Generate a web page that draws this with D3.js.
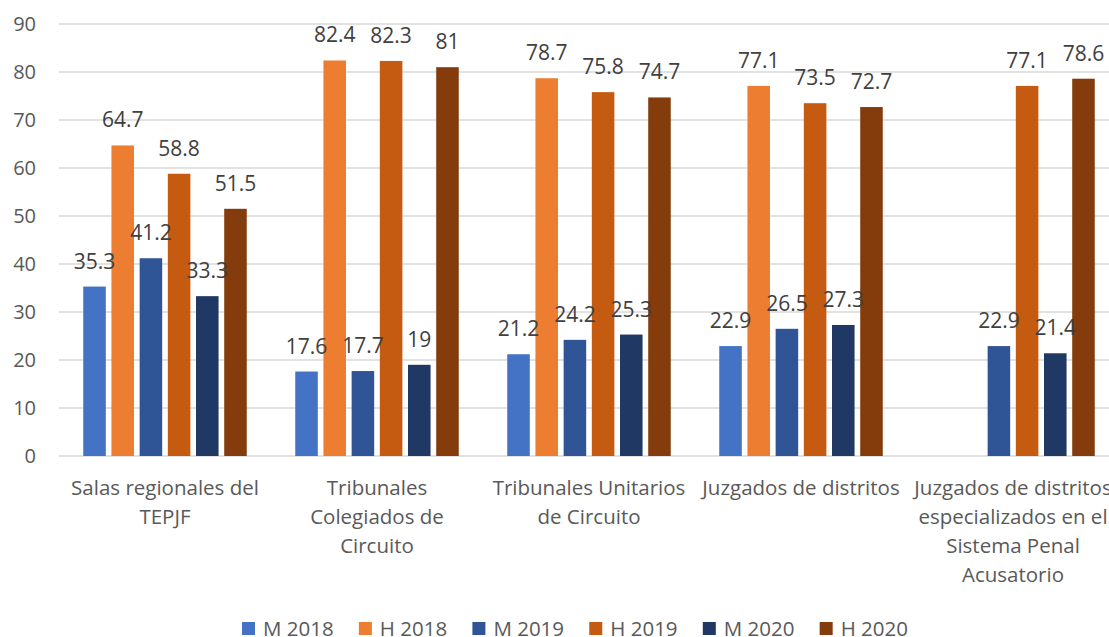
<!DOCTYPE html>
<html>
<head>
<meta charset="utf-8">
<script src="https://cdn.jsdelivr.net/npm/d3@7"></script>
<style>
  html, body { margin: 0; padding: 0; background: #ffffff; overflow: hidden; }
  svg { display: block; font-family: "Open Sans", "Noto Sans", sans-serif; }
</style>
</head>
<body>
<svg id="chart" width="1109" height="637"></svg>
<script>
// ---- data ----
const categories = [
  "Salas regionales del\nTEPJF",
  "Tribunales\nColegiados de\nCircuito",
  "Tribunales Unitarios\nde Circuito",
  "Juzgados de distritos",
  "Juzgados de distritos\nespecializados en el\nSistema Penal\nAcusatorio"
];
const seriesNames = ["M 2018", "H 2018", "M 2019", "H 2019", "M 2020", "H 2020"];
const m2018 = [35.3, 17.6, 21.2, 22.9, null];
const h2018 = [64.7, 82.4, 78.7, 77.1, null];
const m2019 = [41.2, 17.7, 24.2, 26.5, 22.9];
const h2019 = [58.8, 82.3, 75.8, 73.5, 77.1];
const m2020 = [33.3, 19, 25.3, 27.3, 21.4];
const h2020 = [51.5, 81, 74.7, 72.7, 78.6];
const yTicks = [0, 10, 20, 30, 40, 50, 60, 70, 80, 90];
const colors = ["#4472C4", "#ED7D31", "#2F5597", "#C55A11", "#203864", "#843C0C"];

const seriesValues = [m2018, h2018, m2019, h2019, m2020, h2020];

// ---- layout ----
const svg = d3.select("#chart");
const plotLeft = 59, bandW = 212, plotTop = 24, plotBottom = 456;

const x = d3.scaleBand().domain(categories).range([plotLeft, plotLeft + bandW * categories.length]).padding(0);
const xs = d3.scaleBand().domain(seriesNames).range([0, x.bandwidth()]).paddingInner(0.2).paddingOuter(0.86);
const y = d3.scaleLinear().domain([0, 90]).range([plotBottom, plotTop]);

// gridlines
svg.append("g").selectAll("line").data(yTicks).join("line")
  .attr("x1", plotLeft).attr("x2", 1109)
  .attr("y1", d => y(d)).attr("y2", d => y(d))
  .attr("stroke", "#D9D9D9").attr("stroke-width", 1.5);

// y tick labels
svg.append("g").selectAll("text").data(yTicks).join("text")
  .attr("x", 36).attr("y", d => y(d)).attr("dy", "0.35em")
  .attr("text-anchor", "end").attr("font-size", 20).attr("fill", "#595959")
  .text(d => d);

// bars
const flat = [];
categories.forEach((c, ci) => {
  seriesNames.forEach((s, si) => {
    const v = seriesValues[si][ci];
    if (v !== null && v !== undefined) flat.push({ c, s, si, v });
  });
});

svg.append("g").selectAll("rect").data(flat).join("rect")
  .attr("x", d => x(d.c) + xs(d.s))
  .attr("y", d => y(d.v))
  .attr("width", xs.bandwidth())
  .attr("height", d => y(0) - y(d.v))
  .attr("fill", d => colors[d.si]);

// data labels
svg.append("g").selectAll("text").data(flat).join("text")
  .attr("x", d => x(d.c) + xs(d.s) + xs.bandwidth() / 2)
  .attr("y", d => y(d.v) - 18)
  .attr("text-anchor", "middle").attr("font-size", 21).attr("fill", "#404040")
  .text(d => d.v);

// category labels
const catG = svg.append("g");
categories.forEach(c => {
  const t = catG.append("text")
    .attr("x", x(c) + x.bandwidth() / 2)
    .attr("y", 495)
    .attr("text-anchor", "middle").attr("font-size", 20.5).attr("fill", "#595959");
  c.split("\n").forEach((line, i) => {
    t.append("tspan").attr("x", x(c) + x.bandwidth() / 2).attr("dy", i === 0 ? 0 : 29).text(line);
  });
});

// legend
const legG = svg.append("g");
const items = seriesNames.map((s, i) => {
  const g = legG.append("g");
  g.append("rect").attr("width", 13).attr("height", 13).attr("y", -6.5).attr("fill", colors[i]);
  const t = g.append("text").attr("x", 21).attr("dy", "0.35em")
    .attr("font-size", 20.5).attr("fill", "#595959").text(s);
  return { g, w: 21 + t.node().getComputedTextLength() };
});
const legStart = 242, legEnd = 908;
const totalW = d3.sum(items, d => d.w);
const gap = (legEnd - legStart - totalW) / (items.length - 1);
let cx = legStart;
items.forEach(it => {
  it.g.attr("transform", `translate(${cx},628.5)`);
  cx += it.w + gap;
});
</script>
</body>
</html>
